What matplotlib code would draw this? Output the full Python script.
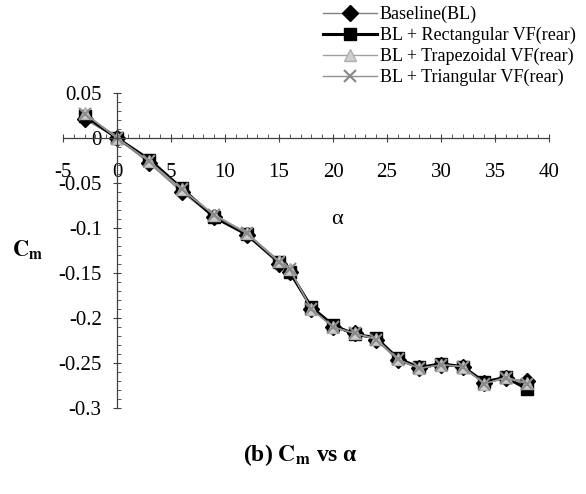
import numpy as np
import matplotlib
matplotlib.use("Agg")
import matplotlib.pyplot as plt
from matplotlib.ticker import MultipleLocator

plt.rcParams['font.family'] = ['Liberation Serif', 'DejaVu Serif']
plt.rcParams['mathtext.fontset'] = 'stix'

# angle of attack (deg) and pitching moment coefficient for each configuration
alpha = [-3, 0, 3, 6, 9, 12, 15, 16, 18, 20, 22, 24, 26, 28, 30, 32, 34, 36, 38]
cm_baseline = [0.021, 0.0, -0.028, -0.060, -0.088, -0.108, -0.140, -0.149, -0.190, -0.210,
               -0.217, -0.224, -0.247, -0.256, -0.252, -0.255, -0.272, -0.267, -0.270]
cm_rect = [0.025, 0.0, -0.024, -0.056, -0.088, -0.107, -0.138, -0.149, -0.188, -0.208,
           -0.218, -0.222, -0.245, -0.255, -0.251, -0.254, -0.271, -0.266, -0.279]
cm_trap = [0.028, 0.0, -0.026, -0.057, -0.085, -0.105, -0.137, -0.146, -0.190, -0.210,
           -0.217, -0.223, -0.246, -0.256, -0.252, -0.254, -0.273, -0.266, -0.272]
cm_tri = [0.027, 0.0, -0.026, -0.057, -0.086, -0.106, -0.138, -0.146, -0.190, -0.210,
          -0.217, -0.224, -0.246, -0.256, -0.252, -0.254, -0.273, -0.267, -0.273]

labels = ['Baseline(BL)', 'BL + Rectangular VF(rear)',
          'BL + Trapezoidal VF(rear)', 'BL + Triangular VF(rear)']

fig = plt.figure(figsize=(5.86, 4.94), dpi=100)
ax = fig.add_axes([0.1075, 0.1741, 0.8294, 0.6376])

ax.plot(alpha, cm_baseline, color='#808080', lw=1.0, marker='D', ms=8,
        mfc='black', mec='black', label=labels[0])
ax.plot(alpha, cm_rect, color='black', lw=2.2, marker='s', ms=8.5,
        mfc='black', mec='black', label=labels[1])
ax.plot(alpha, cm_trap, color='#a0a0a0', lw=1.0, marker='^', ms=9,
        mfc='#cfcfcf', mec='#b0b0b0', label=labels[2])
ax.plot(alpha, cm_tri, color='#909090', lw=1.0, marker='x', ms=9, mew=1.6,
        mfc='#8c8c8c', mec='#8c8c8c', label=labels[3])

ax.set_xlim(-5, 40)
ax.set_ylim(-0.3, 0.05)

# axes cross at the origin, no frame
ax.spines['left'].set_position(('data', 0))
ax.spines['bottom'].set_position(('data', 0))
ax.spines['top'].set_visible(False)
ax.spines['right'].set_visible(False)
for s in ('left', 'bottom'):
    ax.spines[s].set_color('#404040')
    ax.spines[s].set_linewidth(0.9)

ax.xaxis.set_minor_locator(MultipleLocator(1))
ax.yaxis.set_minor_locator(MultipleLocator(0.01))
ax.set_xticks(np.arange(-5, 41, 5))
ax.set_xticklabels([str(v) for v in range(-5, 41, 5)])
ax.set_yticks([0.05, 0, -0.05, -0.1, -0.15, -0.2, -0.25, -0.3])
ax.set_yticklabels(['0.05', '0', '-0.05', '-0.1', '-0.15', '-0.2', '-0.25', '-0.3'])

ax.tick_params(which='major', direction='inout', length=6, width=0.8, color='#404040',
               labelsize=15)
ax.tick_params(which='minor', direction='in', length=3, width=0.6, color='#404040')
ax.tick_params(axis='x', which='major', pad=15)
ax.tick_params(axis='y', which='major', pad=8)

fig.text(337 / 586, 1 - 220 / 494, 'α', fontsize=16, ha='center', va='center')
fig.text(27 / 586, 1 - 250 / 494, r'$\mathbf{C_m}$', fontsize=16, ha='center', va='center')
fig.text(300 / 586, 1 - 455 / 494, r'(b) $\mathbf{C_m}$ vs α', fontsize=17,
         fontweight='bold', ha='center', va='center')

ax.legend(loc='upper left', bbox_to_anchor=(323 / 586, 1 - 6 / 494),
          bbox_transform=fig.transFigure, frameon=False, fontsize=13,
          handlelength=3.0, handletextpad=0.15, labelspacing=0.2,
          borderpad=0, borderaxespad=0, numpoints=1)

fig.savefig('out.png', dpi=100, facecolor='white')
